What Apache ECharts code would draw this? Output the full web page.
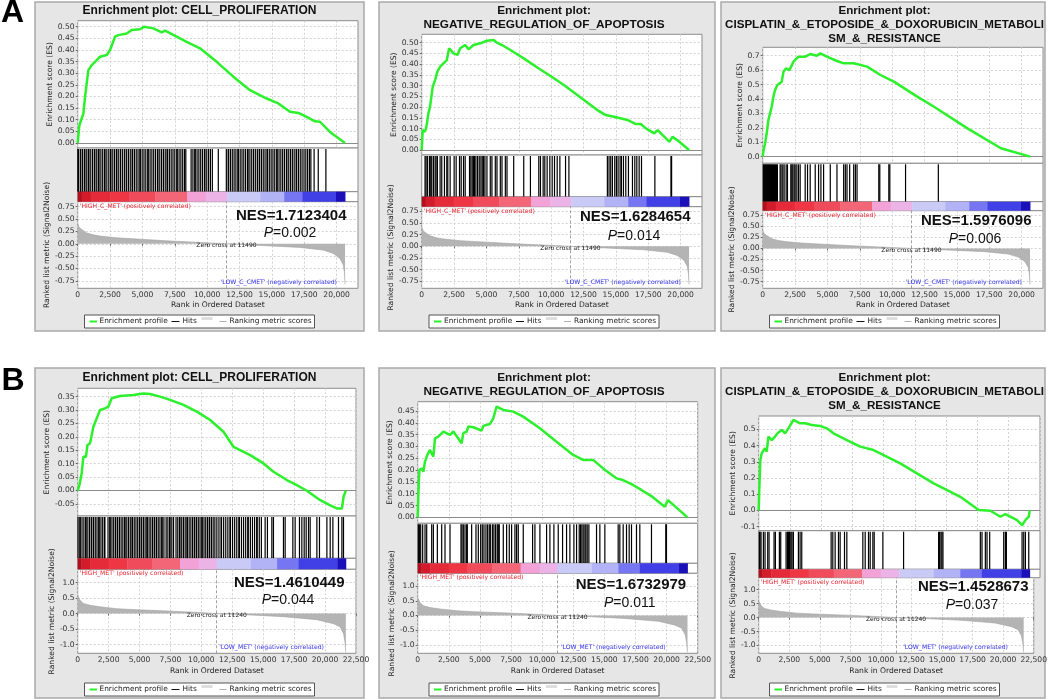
<!DOCTYPE html>
<html><head><meta charset="utf-8">
<script src="https://cdn.jsdelivr.net/npm/echarts@6/dist/echarts.min.js"></script>
<style>html,body{margin:0;padding:0;background:#fff}#c{width:1050px;height:699px}</style>
</head><body><div id="c"></div><script>
// ---------------- DATA ----------------
const panelTitles = [
  ['Enrichment plot: CELL_PROLIFERATION'],
  ['Enrichment plot:', 'NEGATIVE_REGULATION_OF_APOPTOSIS'],
  ['Enrichment plot:', 'CISPLATIN_&_ETOPOSIDE_&_DOXORUBICIN_METABOLI', 'SM_&_RESISTANCE'],
  ['Enrichment plot: CELL_PROLIFERATION'],
  ['Enrichment plot:', 'NEGATIVE_REGULATION_OF_APOPTOSIS'],
  ['Enrichment plot:', 'CISPLATIN_&_ETOPOSIDE_&_DOXORUBICIN_METABOLI', 'SM_&_RESISTANCE']
];
const nesValues = ['1.7123404', '1.6284654', '1.5976096', '1.4610449', '1.6732979', '1.4528673'];
const pValues = ['0.002', '0.014', '0.006', '0.044', '0.011', '0.037'];
const rowLetters = ['A', 'B'];
const highLabels = ["'HIGH_C_MET' (positively correlated)", "'HIGH_MET' (positively correlated)"];
const lowLabels = ["'LOW_C_CMET' (negatively correlated)", "'LOW_MET' (negatively correlated)"];
const legendNames = ['Enrichment profile', 'Hits', 'Ranking metric scores'];

const rankMaxA = 21650, rankMaxB = 22500;
const zeroCrossA = 11490, zeroCrossB = 11240;
const xTicksA = [0, 2500, 5000, 7500, 10000, 12500, 15000, 17500, 20000];
const xTicksB = [0, 2500, 5000, 7500, 10000, 12500, 15000, 17500, 20000, 22500];
const esTicksA1 = [0, 0.05, 0.1, 0.15, 0.2, 0.25, 0.3, 0.35, 0.4, 0.45, 0.5];
const esTicksA2 = [0, 0.05, 0.1, 0.15, 0.2, 0.25, 0.3, 0.35, 0.4, 0.45, 0.5];
const esTicksA3 = [0, 0.1, 0.2, 0.3, 0.4, 0.5, 0.6, 0.7];
const esTicksB1 = [-0.05, 0, 0.05, 0.1, 0.15, 0.2, 0.25, 0.3, 0.35];
const esTicksB2 = [0, 0.05, 0.1, 0.15, 0.2, 0.25, 0.3, 0.35, 0.4, 0.45];
const esTicksB3 = [-0.1, 0, 0.1, 0.2, 0.3, 0.4, 0.5];
const rankedTicksA = [-0.75, -0.5, -0.25, 0, 0.25, 0.5, 0.75];
const rankedTicksB = [-1, -0.5, 0, 0.5, 1];

const esA1 = [[0,0],[129,0.076],[309,0.105],[438,0.126],[566,0.198],[695,0.256],[824,0.313],[1081,0.335],[1467,0.356],[1725,0.371],[2239,0.378],[2497,0.400],[2883,0.457],[3140,0.464],[3784,0.471],[4170,0.486],[4813,0.489],[5122,0.500],[5843,0.493],[6486,0.476],[6744,0.483],[7645,0.457],[8417,0.435],[9447,0.407],[10734,0.349],[12021,0.285],[13308,0.227],[14595,0.191],[15496,0.170],[16396,0.134],[17040,0.129],[17683,0.112],[18327,0.093],[18713,0.091],[19485,0.047],[20650,0]];
const esA2 = [[0,0],[78,0.093],[258,0.085],[388,0.116],[517,0.171],[646,0.202],[853,0.295],[1034,0.326],[1214,0.365],[1421,0.388],[1680,0.404],[1938,0.419],[2119,0.474],[2455,0.450],[2765,0.443],[2972,0.474],[3359,0.489],[3618,0.469],[4005,0.489],[4522,0.497],[5039,0.509],[5556,0.512],[5814,0.500],[6202,0.489],[6848,0.466],[7881,0.427],[9044,0.380],[9948,0.345],[10982,0.303],[12532,0.233],[13566,0.186],[14212,0.163],[14858,0.155],[15892,0.140],[16538,0.121],[16926,0.121],[17314,0.101],[17960,0.078],[18218,0.093],[19123,0.039],[19381,0.062],[19898,0.039],[20650,0]];
const esA3 = [[0,0],[52,0.035],[181,0.092],[310,0.162],[439,0.254],[568,0.300],[698,0.346],[827,0.416],[956,0.462],[1137,0.497],[1473,0.520],[1602,0.589],[1809,0.612],[2067,0.600],[2377,0.658],[2765,0.693],[3282,0.693],[3669,0.711],[4186,0.700],[4444,0.716],[4961,0.693],[5736,0.663],[6253,0.647],[7028,0.647],[8062,0.624],[9095,0.566],[10129,0.520],[11938,0.416],[13230,0.346],[15814,0.196],[18398,0.058],[20650,0]];
const esB1 = [[0,0],[135,0.020],[324,0.064],[458,0.126],[674,0.126],[782,0.169],[998,0.176],[1268,0.238],[1537,0.269],[1807,0.300],[2211,0.306],[2481,0.313],[2751,0.344],[3425,0.352],[4504,0.356],[5313,0.362],[5852,0.360],[6661,0.350],[7471,0.338],[8550,0.319],[9629,0.294],[10708,0.263],[11786,0.219],[12595,0.163],[13944,0.132],[15022,0.101],[15831,0.070],[16910,0.039],[17719,0.020],[18528,-0.001],[19607,-0.036],[20416,-0.055],[20955,-0.067],[21360,-0.067],[21495,-0.024],[21680,0]];
const esB2 = [[0,0],[54,0.102],[134,0.200],[321,0.207],[455,0.193],[589,0.236],[776,0.264],[990,0.285],[1258,0.257],[1391,0.334],[1659,0.341],[2060,0.363],[2596,0.349],[2863,0.363],[3532,0.313],[3666,0.356],[3934,0.363],[4068,0.384],[4469,0.381],[5138,0.367],[5272,0.387],[5806,0.395],[6074,0.419],[6341,0.468],[6876,0.454],[7678,0.447],[8480,0.426],[9817,0.377],[11154,0.320],[12491,0.264],[13293,0.243],[14095,0.243],[14898,0.207],[15967,0.165],[16502,0.158],[17304,0.137],[17972,0.116],[18774,0.090],[19844,0.045],[20111,0.073],[21680,0]];
const esB3 = [[0,0],[53,0.146],[134,0.311],[240,0.352],[507,0.383],[641,0.362],[774,0.455],[1041,0.434],[1308,0.455],[1495,0.475],[1842,0.496],[2109,0.475],[2376,0.506],[2777,0.558],[3311,0.537],[3711,0.537],[4245,0.527],[4913,0.521],[5447,0.506],[5981,0.475],[7049,0.434],[8117,0.393],[9185,0.372],[11321,0.290],[12656,0.228],[13991,0.167],[14792,0.136],[16127,0.084],[17595,0.002],[18530,-0.002],[19331,-0.039],[19731,-0.023],[20666,-0.060],[21066,-0.091],[21333,-0.060],[21600,-0.039],[21680,0.002]];

const hitsA1 = [15,60,200,245,380,520,560,700,830,870,1010,1150,1290,1330,1470,1600,1650,1790,1930,2070,2110,2250,2400,2530,2570,2710,2850,2990,3030,3170,3310,3450,3600,3640,3780,3920,4060,4200,4240,4380,4520,4660,4800,4840,4980,5120,5260,5410,5450,5590,5730,5870,6010,6160,6200,6340,6480,6620,6760,6900,6940,7080,7220,7360,7500,7650,7690,7830,7970,8110,8250,8350,8760,8900,9040,9080,9220,9360,9500,9640,9790,9830,9970,10110,10250,10400,10860,11480,11620,11660,11800,11940,12080,12220,12370,12410,12550,12690,12830,12970,13120,13160,13300,13440,13580,13720,13870,13910,14050,14190,14330,14470,14620,14660,14800,14940,15080,15220,15370,15410,15550,15690,15830,15970,16120,16160,16300,16440,16580,16720,16870,16910,17050,17190,17330,17480,17620,17760,17900,18010,18260,18580,19170];
const hitsA2 = [258,336,439,594,698,775,904,1034,1111,1214,1421,1550,1757,1938,2016,2196,2506,2662,2920,3049,3230,3359,3695,3798,3902,4005,4083,4186,4315,4444,4574,4677,4780,4884,5039,5297,5426,5685,5814,6072,6202,6460,6589,7106,7881,8398,9044,9173,9380,9509,9690,9897,10078,10258,10465,10672,11111,11370,14341,14470,14600,14729,14910,15039,15168,15323,15426,15582,15763,15969,16279,16460,16615,16796,16977,18010,19251,19302];
const hitsA3 = [52,129,207,284,362,439,517,594,672,749,827,904,982,1059,1137,1344,1421,1550,1654,1809,1912,2171,2248,2326,2429,2506,2636,2765,2894,3282,3463,3669,4057,4315,4496,4703,5220,5736,6253,6382,6512,6718,7028,7158,7287,8966,9044,9742,9819,11034,13566];
const hitsB1 = [30,170,210,350,500,640,680,820,960,1100,1140,1280,1420,1560,1700,1740,1880,2020,2160,2200,2450,2590,2630,2770,2910,3050,3190,3230,3370,3510,3650,3790,3830,3970,4110,4250,4390,4430,4570,4710,4850,4990,5030,5170,5310,5450,5590,5630,5770,5910,6050,6190,6230,6370,6510,6650,6790,6830,6970,7150,7290,7430,7470,7610,7750,7950,8090,8230,8270,8410,8550,8690,8830,8870,9010,9150,9290,9430,9470,9610,9750,9890,10030,10070,10210,10350,10490,10630,10670,10810,10950,11090,11250,11420,11590,11630,11800,11970,12140,12310,12350,12520,12690,12860,13030,13070,13240,13410,13580,13750,13790,13960,14130,14300,14470,14510,14680,14850,15154,15340,15696,15826,16635,16772,17394,17580,17930,18122,18310,18472,18660,18794,19337,19547,20146,20413,20631,21084,21359,21489];
const hitsB2 = [54,134,241,401,589,723,1124,1258,1579,1927,2194,2596,3479,3559,3666,3800,3934,3987,4335,4683,4870,5058,5191,5325,5486,5620,5753,5861,6021,6128,6262,6396,6476,6556,6877,7145,7359,7546,7814,7948,8082,8483,9232,9420,9821,10356,10624,10945,11293,11641,11962,12229,12550,12765,12979,13086,13193,13300,13434,13514,13621,13755,14370,14638,15039,16110,16243,16511,16779,16993,17180,17581,17849,18786,19936,19990];
const hitsB3 = [53,107,187,374,507,721,828,1228,1335,1655,1762,2189,2296,2376,2456,2510,2590,2670,2777,3177,3311,3444,5794,5927,6114,6381,6515,6862,7049,8330,8517,8784,8918,9131,9238,9932,11588,14391,14471,14578,14658,14738,17729,17862,18129,18263,18476,19598,19731,19811,21066,21200,21333,21600];

const rankedA = [[0,0.41],[120,0.33],[309,0.29],[695,0.22],[1200,0.18],[1725,0.155],[3000,0.12],[4299,0.10],[6873,0.06],[9447,0.027],[11490,0],[14595,-0.04],[17169,-0.074],[18970,-0.128],[19743,-0.196],[20258,-0.30],[20515,-0.43],[20600,-0.58],[20650,-0.82]];
const rankedB = [[0,0.60],[189,0.43],[458,0.33],[998,0.27],[1807,0.22],[3155,0.16],[4504,0.13],[7201,0.087],[9898,0.033],[11240,0],[13944,-0.043],[16641,-0.098],[19338,-0.196],[20686,-0.326],[21225,-0.435],[21495,-0.65],[21600,-0.9],[21680,-1.25]];

const barBreaksA = [0, 300, 1000, 2500, 4000, 6000, 8450, 9900, 11550, 14100, 15950, 17350, 19950, 20650];
const barBreaksB = [0, 300, 1000, 2500, 4000, 6000, 8270, 9800, 11245, 14000, 16120, 17850, 21000, 21680];

// ---------------- STYLE / LAYOUT ----------------
const barPalette = ['#b3101e','#d21b2b','#e52a39','#ee3645','#f04b5a','#f26677','#f2a2d6','#ecb4e6','#cacaf6','#b2b2f6','#7676f2','#4040e6','#1a0fb8'];
const GREEN = '#2cf02c';
const FONT = '"DejaVu Sans", sans-serif';
const layout = [
  {box:[35,2,329,329], cx:199.5, L:77.7, R:358, es:[20.7,148], hits:[148,191.7], bar:[191.7,201.7], rk:[201.7,288.3], gaps:[21,25.7], titleTop:4, titleSize:12, nesY:216, pY:233, lowOff:21, legendTop:315, xNameGap:12.5},
  {box:[379,2,336,329], cx:544, L:421.7, R:702, es:[34.3,155], hits:[155,196.7], bar:[196.7,206.7], rk:[206.7,288.3], gaps:[21,25], titleTop:4, titleSize:11.8, nesY:217.3, pY:235.7, lowOff:21, legendTop:315, xNameGap:12.5},
  {box:[721,2,324,329], cx:884.5, L:762.7, R:1043, es:[47.3,163.3], hits:[163.3,201.7], bar:[201.7,210.7], rk:[210.7,288.3], gaps:[18,25.4], titleTop:4, titleSize:11.6, nesY:221, pY:239, lowOff:21, legendTop:315, xNameGap:12.5},
  {box:[35,368,329,330], cx:199.5, L:77.7, R:356, es:[388.3,516], hits:[516,558.3], bar:[558.3,569.3], rk:[569.3,653.3], gaps:[24.4,20.4], titleTop:370.3, titleSize:12, nesY:582.7, pY:600, lowOff:32, legendTop:683, xNameGap:14},
  {box:[379,368,336,330], cx:544, L:417.7, R:697.7, es:[401.7,523.3], hits:[523.3,563.3], bar:[563.3,573.3], rk:[573.3,653.3], gaps:[21,21], titleTop:370.3, titleSize:11.8, nesY:585, pY:602.7, lowOff:32, legendTop:683, xNameGap:14},
  {box:[721,368,324,330], cx:884.5, L:758.7, R:1040, es:[416,530.7], hits:[530.7,569.3], bar:[569.3,577.7], rk:[577.7,653.3], gaps:[21.4,21.4], titleTop:370.3, titleSize:11.6, nesY:587.3, pY:605, lowOff:32, legendTop:683, xNameGap:14}
];
const letterPos = [[12.5,13.5],[13,381]];

const panels = [
  {es:esA1, esMin:-0.022, esMax:0.526, esTicks:esTicksA1, esDec:2, hits:hitsA1, ranked:rankedA, rMin:-0.9, rMax:0.85, rTicks:rankedTicksA, rDec:2, xMax:rankMaxA, xTicks:xTicksA, breaks:barBreaksA, zc:zeroCrossA, row:0},
  {es:esA2, esMin:-0.023, esMax:0.539, esTicks:esTicksA2, esDec:2, hits:hitsA2, ranked:rankedA, rMin:-0.9, rMax:0.85, rTicks:rankedTicksA, rDec:2, xMax:rankMaxA, xTicks:xTicksA, breaks:barBreaksA, zc:zeroCrossA, row:0},
  {es:esA3, esMin:-0.046, esMax:0.758, esTicks:esTicksA3, esDec:1, hits:hitsA3, ranked:rankedA, rMin:-0.9, rMax:0.85, rTicks:rankedTicksA, rDec:2, xMax:rankMaxA, xTicks:xTicksA, breaks:barBreaksA, zc:zeroCrossA, row:0},
  {es:esB1, esMin:-0.095, esMax:0.381, esTicks:esTicksB1, esDec:2, hits:hitsB1, ranked:rankedB, rMin:-1.28, rMax:1.43, rTicks:rankedTicksB, rDec:1, xMax:rankMaxB, xTicks:xTicksB, breaks:barBreaksB, zc:zeroCrossB, row:1},
  {es:esB2, esMin:-0.025, esMax:0.489, esTicks:esTicksB2, esDec:2, hits:hitsB2, ranked:rankedB, rMin:-1.28, rMax:1.43, rTicks:rankedTicksB, rDec:1, xMax:rankMaxB, xTicks:xTicksB, breaks:barBreaksB, zc:zeroCrossB, row:1},
  {es:esB3, esMin:-0.125, esMax:0.582, esTicks:esTicksB3, esDec:1, hits:hitsB3, ranked:rankedB, rMin:-1.28, rMax:1.43, rTicks:rankedTicksB, rDec:1, xMax:rankMaxB, xTicks:xTicksB, breaks:barBreaksB, zc:zeroCrossB, row:1}
];

// ---------------- BUILD ----------------
const grid = [], xAxis = [], yAxis = [], series = [], graphic = [];
const dotted = {show:true, lineStyle:{color:'#d2d2d2', type:[2,2], width:1}};
const lblStyle = {fontSize:7.6, fontFamily:FONT, color:'#333'};

panels.forEach((p, i) => {
  const g = layout[i];
  const base = i * 4;
  [g.es, g.hits, g.bar, g.rk].forEach(r => {
    grid.push({left:g.L, top:r[0], width:g.R - g.L, height:r[1] - r[0], show:true,
      backgroundColor:'#ffffff', borderColor:'#8c8c8c', borderWidth:1});
  });
  for (let k = 0; k < 4; k++) {
    const isRk = k === 3, isEs = k === 0;
    xAxis.push({type:'value', gridIndex:base + k, min:0, max:p.xMax,
      axisLine:{show:false},
      axisTick:{show:isRk, customValues:p.xTicks, length:2, lineStyle:{color:'#666'}},
      axisLabel:{show:isRk, customValues:p.xTicks, margin:3, ...lblStyle,
        formatter:v => Math.round(v).toLocaleString('en-US')},
      splitLine:(isRk || isEs) ? dotted : {show:false},
      name:isRk ? 'Rank in Ordered Dataset' : '', nameLocation:'middle', nameGap:g.xNameGap,
      nameTextStyle:{fontSize:7.6, fontFamily:FONT, color:'#222'}});
  }
  yAxis.push({type:'value', gridIndex:base, min:p.esMin, max:p.esMax,
    axisLine:{show:false},
    axisTick:{show:true, customValues:p.esTicks, length:2, lineStyle:{color:'#666'}},
    axisLabel:{customValues:p.esTicks, margin:3, ...lblStyle, formatter:v => v.toFixed(p.esDec)},
    splitLine:dotted,
    name:'Enrichment score (ES)', nameLocation:'middle', nameGap:g.gaps[0],
    nameTextStyle:{fontSize:7.6, fontFamily:FONT, color:'#222'}});
  yAxis.push({type:'value', gridIndex:base + 1, min:0, max:1, show:false});
  yAxis.push({type:'value', gridIndex:base + 2, min:0, max:1, show:false});
  yAxis.push({type:'value', gridIndex:base + 3, min:p.rMin, max:p.rMax,
    axisLine:{show:false},
    axisTick:{show:true, customValues:p.rTicks, length:2, lineStyle:{color:'#666'}},
    axisLabel:{customValues:p.rTicks, margin:3, ...lblStyle, formatter:v => v.toFixed(p.rDec)},
    splitLine:dotted,
    name:'Ranked list metric (Signal2Noise)', nameLocation:'middle', nameGap:g.gaps[1],
    nameTextStyle:{fontSize:7.6, fontFamily:FONT, color:'#222'}});

  // Enrichment profile
  series.push({type:'line', name:legendNames[0], xAxisIndex:base, yAxisIndex:base, data:p.es,
    symbol:'none', silent:true, z:4, lineStyle:{color:GREEN, width:2.5},
    markLine:{silent:true, symbol:'none', z:1, label:{show:false},
      lineStyle:{color:'#8a8a8a', type:'solid', width:1}, data:[{yAxis:0}]}});
  // Hits
  series.push({type:'custom', name:legendNames[1], xAxisIndex:base + 1, yAxisIndex:base + 1,
    data:p.hits.map(v => [v, 0.5]), silent:true, encode:{x:0, y:1},
    renderItem:(params, api) => {
      const x = api.coord([api.value(0), 0.5])[0];
      const cs = params.coordSys;
      return {type:'line', shape:{x1:x, y1:cs.y + 1, x2:x, y2:cs.y + cs.height},
        style:{stroke:'#000', lineWidth:1.2, opacity:1}};
    }});
  // Colour bar
  const bands = [];
  for (let j = 0; j < p.breaks.length - 1; j++) bands.push([p.breaks[j], p.breaks[j + 1], j]);
  series.push({type:'custom', xAxisIndex:base + 2, yAxisIndex:base + 2, data:bands, silent:true,
    encode:{x:[0, 1]},
    renderItem:(params, api) => {
      const x0 = api.coord([api.value(0), 0])[0];
      const x1 = api.coord([api.value(1), 0])[0];
      const cs = params.coordSys;
      return {type:'rect', shape:{x:x0, y:cs.y, width:x1 - x0 + 0.4, height:cs.height},
        style:{fill:barPalette[api.value(2)]}};
    }});
  // Ranking metric
  series.push({type:'line', name:legendNames[2], xAxisIndex:base + 3, yAxisIndex:base + 3, data:p.ranked,
    symbol:'none', silent:true, lineStyle:{color:'#a2a2a2', width:0.6},
    areaStyle:{color:'#b4b4b4', opacity:1},
    markLine:{silent:true, symbol:'none', label:{show:false},
      lineStyle:{color:'#8c8c8c', type:[3,2], width:0.8}, data:[{xAxis:p.zc}]},
    markPoint:{silent:true, symbol:'rect', symbolSize:0, data:[{coord:[p.zc, 0]}],
      label:{show:true, formatter:'Zero cross at ' + p.zc, fontSize:6, fontFamily:FONT, color:'#222', offset:[0, 2]}}});

  // -------- graphics --------
  graphic.push({type:'rect', z:-20, silent:true,
    shape:{x:g.box[0], y:g.box[1], width:g.box[2], height:g.box[3]},
    style:{fill:'#e6e6e6', stroke:'#a9a9a9', lineWidth:1.5}});
  graphic.push({type:'text', z:100, silent:true,
    style:{text:panelTitles[i].join('\n'), x:g.cx, y:g.titleTop, textAlign:'center', textVerticalAlign:'top',
      font:'bold ' + g.titleSize + 'px "Liberation Sans", Arial, sans-serif', fill:'#111', lineHeight:14}});
  graphic.push({type:'text', z:100, silent:true,
    style:{text:'NES=' + nesValues[i], x:g.R - 11.5, y:g.nesY, textAlign:'right', textVerticalAlign:'middle',
      font:'bold 15px "Liberation Sans", Arial, sans-serif', fill:'#111'}});
  graphic.push({type:'text', z:100, silent:true,
    style:{text:'{i|P}=' + pValues[i], x:g.R - 68, y:g.pY, textAlign:'center', textVerticalAlign:'middle',
      font:'14px "Liberation Sans", Arial, sans-serif', fill:'#111',
      rich:{i:{fontStyle:'italic', fontSize:14, fontFamily:'"Liberation Sans", Arial, sans-serif', fill:'#111'}}}});
  graphic.push({type:'text', z:100, silent:true,
    style:{text:highLabels[p.row], x:g.L + 2, y:g.bar[1] + 4.5, textAlign:'left', textVerticalAlign:'middle',
      font:'6.1px ' + FONT, fill:'#ea1f2c'}});
  graphic.push({type:'text', z:100, silent:true,
    style:{text:lowLabels[p.row], x:g.R - g.lowOff, y:g.rk[1] - 6, textAlign:'right', textVerticalAlign:'middle',
      font:'6.1px ' + FONT, fill:'#3434f0'}});
  // legend
  const Lx = g.cx - 115, Ty = g.legendTop, Hh = 13, my = Ty + Hh / 2;
  const lf = '7.4px ' + FONT;
  graphic.push({type:'rect', z:100, silent:true, shape:{x:Lx, y:Ty, width:230, height:Hh},
    style:{fill:'#ffffff', stroke:'#555', lineWidth:1}});
  graphic.push({type:'line', z:101, silent:true, shape:{x1:Lx + 5, y1:my, x2:Lx + 12.5, y2:my}, style:{stroke:GREEN, lineWidth:2}});
  graphic.push({type:'text', z:101, silent:true, style:{text:legendNames[0], x:Lx + 15, y:my, textVerticalAlign:'middle', font:lf, fill:'#222'}});
  graphic.push({type:'line', z:101, silent:true, shape:{x1:Lx + 87, y1:my, x2:Lx + 95, y2:my}, style:{stroke:'#111', lineWidth:1}});
  graphic.push({type:'text', z:101, silent:true, style:{text:legendNames[1], x:Lx + 98, y:my, textVerticalAlign:'middle', font:lf, fill:'#222'}});
  graphic.push({type:'rect', z:101, silent:true, shape:{x:Lx + 117, y:Ty + 2, width:11, height:3}, style:{fill:'#dedede'}});
  graphic.push({type:'line', z:101, silent:true, shape:{x1:Lx + 135, y1:my, x2:Lx + 142, y2:my}, style:{stroke:'#b0b0b0', lineWidth:1}});
  graphic.push({type:'text', z:101, silent:true, style:{text:legendNames[2], x:Lx + 145, y:my, textVerticalAlign:'middle', font:lf, fill:'#222'}});
});
rowLetters.forEach((t, r) => {
  graphic.push({type:'text', z:100, silent:true,
    style:{text:t, x:letterPos[r][0], y:letterPos[r][1], textAlign:'center', textVerticalAlign:'middle',
      font:'bold 32px "Liberation Sans", Arial, sans-serif', fill:'#000'}});
});

const chart = echarts.init(document.getElementById('c'), null, {renderer:'canvas'});
chart.setOption({
  animation:false,
  backgroundColor:'#ffffff',
  textStyle:{fontFamily:FONT},
  grid, xAxis, yAxis, series, graphic
});
</script></body></html>
